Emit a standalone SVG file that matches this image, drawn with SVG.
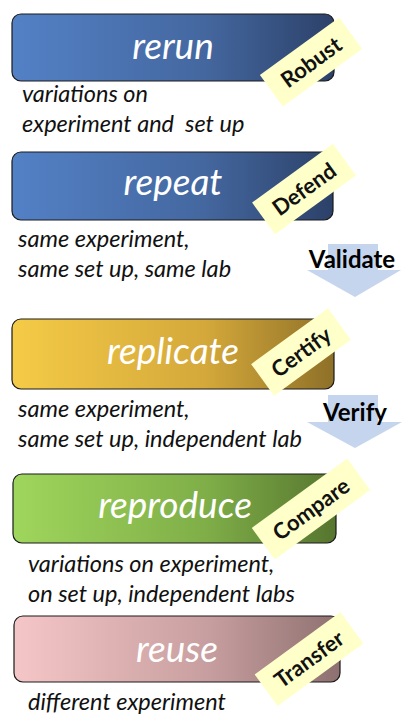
<svg xmlns="http://www.w3.org/2000/svg" width="403" height="716" viewBox="0 0 403 716">
<defs>
<linearGradient id="gBlue" x1="0" y1="0" x2="1" y2="0"><stop offset="0" stop-color="#5381C6"/><stop offset="0.6" stop-color="#44679F"/><stop offset="1" stop-color="#2C4169"/></linearGradient>
<linearGradient id="gGold" x1="0" y1="0" x2="1" y2="0"><stop offset="0" stop-color="#F5CB47"/><stop offset="0.6" stop-color="#D4A83A"/><stop offset="1" stop-color="#8E7028"/></linearGradient>
<linearGradient id="gGreen" x1="0" y1="0" x2="1" y2="0"><stop offset="0" stop-color="#9FD65C"/><stop offset="0.6" stop-color="#7FAE48"/><stop offset="1" stop-color="#56752F"/></linearGradient>
<linearGradient id="gPink" x1="0" y1="0" x2="1" y2="0"><stop offset="0" stop-color="#F5C6C7"/><stop offset="0.6" stop-color="#C79E9F"/><stop offset="1" stop-color="#8E7070"/></linearGradient>
<style>
.box{stroke:#1a1a1a;stroke-width:1.2}
.title{font-family:Lato,"Open Sans","Liberation Sans",sans-serif;font-style:italic;font-size:37px;fill:#fff;text-anchor:middle}
.desc{font-family:Lato,"Open Sans","Liberation Sans",sans-serif;font-style:italic;font-size:23.5px;fill:#111}
.tag{fill:#FFFFCA}
.tagt{font-family:Lato,"Open Sans","Liberation Sans",sans-serif;font-weight:bold;font-size:22px;fill:#111;text-anchor:middle}
.arrow{fill:#C6D5EE}
.atext{font-family:Lato,"Open Sans","Liberation Sans",sans-serif;font-weight:bold;font-size:24px;fill:#000;text-anchor:middle}
</style>
</defs>
<g id="connectors">
<g id="validate">
<polygon class="arrow" points="328,244 378,244 378,270 401,270 355,297 307,270 328,270"/>
<text class="atext" x="352" y="268">Validate</text>
</g>
<g id="verify">
<polygon class="arrow" points="328,395 378,395 378,422 402,422 355,448 307,422 328,422"/>
<text class="atext" x="355" y="421">Verify</text>
</g>
</g>
<g id="rerun">
<rect class="box" x="12" y="14" width="322" height="67" rx="9" fill="url(#gBlue)"/>
<text class="title" x="173" y="59">rerun</text>
<g transform="translate(311,62) rotate(-36)"><rect class="tag" x="-49" y="-19.5" width="98" height="39"/><text class="tagt" x="0" y="8">Robust</text></g>
<text class="desc" x="22" y="102">variations on</text>
<text class="desc" x="22" y="132" xml:space="preserve">experiment and  set up</text>
</g>
<g id="repeat">
<rect class="box" x="12" y="152" width="321" height="68" rx="9" fill="url(#gBlue)"/>
<text class="title" x="173" y="195">repeat</text>
<g transform="translate(304,189) rotate(-36)"><rect class="tag" x="-50" y="-19.5" width="100" height="39"/><text class="tagt" x="0" y="8">Defend</text></g>
<text class="desc" x="18" y="247">same experiment,</text>
<text class="desc" x="18" y="277">same set up, same lab</text>
</g>
<g id="replicate">
<rect class="box" x="12" y="319" width="322" height="70" rx="9" fill="url(#gGold)"/>
<text class="title" x="173" y="364">replicate</text>
<g transform="translate(301,352) rotate(-36)"><rect class="tag" x="-47.5" y="-19.5" width="95" height="39"/><text class="tagt" x="0" y="8">Certify</text></g>
<text class="desc" x="18" y="417">same experiment,</text>
<text class="desc" x="18" y="447">same set up, independent lab</text>
</g>
<g id="reproduce">
<rect class="box" x="13" y="474" width="323" height="69" rx="9" fill="url(#gGreen)"/>
<text class="title" x="175" y="518">reproduce</text>
<g transform="translate(311,509) rotate(-36)"><rect class="tag" x="-59" y="-19.5" width="118" height="39"/><text class="tagt" x="0" y="8">Compare</text></g>
<text class="desc" x="28" y="572">variations on experiment,</text>
<text class="desc" x="28" y="602">on set up, independent labs</text>
</g>
<g id="reuse">
<rect class="box" x="14" y="616" width="326" height="66" rx="9" fill="url(#gPink)"/>
<text class="title" x="177" y="662">reuse</text>
<g transform="translate(309,659) rotate(-36)"><rect class="tag" x="-53" y="-19.5" width="106" height="39"/><text class="tagt" x="0" y="8">Transfer</text></g>
<text class="desc" x="28" y="710">different experiment</text>
</g>
</svg>
